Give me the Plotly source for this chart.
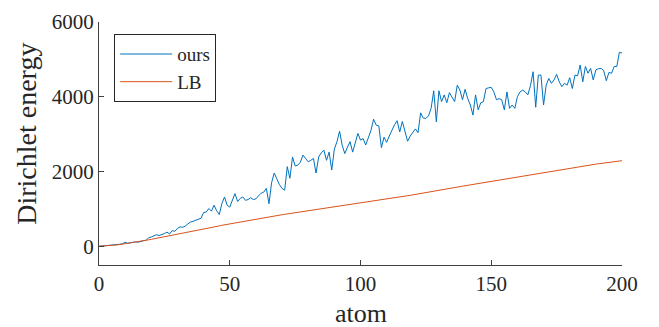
import plotly.graph_objects as go

atoms = list(range(0, 201))

ours = [
    0, 5, 10, 15, 20, 30, 35, 45, 55, 70,
    110, 80, 90, 100, 120, 110, 140, 150, 160, 230,
    250, 270, 310, 290, 310, 340, 380, 330, 420, 400,
    480, 520, 510, 540, 600, 650, 670, 700, 720, 750,
    900, 920, 1010, 940, 1100, 950, 850, 1150, 1320, 1100,
    1050, 1250, 1410, 1200, 1280, 1320, 1230, 1250, 1300, 1250,
    1270, 1350, 1420, 1450, 1550, 1140, 1700, 1960, 1800, 1650,
    1550, 1500, 2130, 1820, 2390, 2150, 2170, 2250, 2440, 2350,
    2260, 2300, 2350, 1960, 2390, 2500, 2570, 2300, 2520, 2040,
    2600, 2800, 3080, 2700, 2480, 2650, 2800, 2520, 2750, 3020,
    2840, 2880, 2710, 2930, 3100, 3400, 3240, 3220, 2640, 2920,
    2780, 2950, 3110, 3250, 3360, 3060, 3340, 3100, 2810, 2950,
    3050, 3140, 3040, 3570, 3430, 3420, 3490, 3690, 4160, 3330,
    4160, 3870, 4050, 3840, 4110, 3980, 3870, 4310, 4180, 3920,
    4200, 3950, 3780, 3510, 4050, 3650, 3840, 3870, 4220, 4240,
    4250, 4130, 3920, 3950, 3920, 3650, 4130, 3690, 3780, 3690,
    4000, 4130, 4180, 4130, 4050, 4300, 4670, 3720, 4580, 4580,
    3780, 4310, 4490, 4360, 4450, 4600, 4400, 4270, 4360, 4310,
    4510, 4220, 4580, 4560, 4850, 4400, 4810, 4630, 4760, 4450,
    4720, 4750, 4760, 4700, 4430, 4650, 4630, 4810, 4810, 5190,
    5170,
]

lb = [
    0, 3, 7, 12, 17, 23, 30, 38, 47, 57,
    67, 77, 88, 99, 111, 123, 135, 148, 161, 174,
    187, 200, 214, 228, 241, 255, 268, 282, 296, 309,
    322, 336, 350, 363, 376, 390, 404, 418, 431, 444,
    457, 470, 483, 497, 510, 525, 545, 562, 575, 588,
    600, 612, 624, 636, 648, 660, 672, 684, 696, 708,
    720, 732, 745, 757, 769, 781, 795, 810, 822, 834,
    845, 856, 866, 876, 886, 896, 906, 916, 926, 936,
    946, 956, 966, 978, 990, 1002, 1015, 1025, 1035, 1045,
    1055, 1065, 1075, 1085, 1095, 1105, 1115, 1125, 1135, 1145,
    1155, 1166, 1177, 1188, 1199, 1210, 1221, 1232, 1243, 1254,
    1265, 1276, 1287, 1298, 1309, 1320, 1331, 1342, 1353, 1364,
    1375, 1386, 1397, 1410, 1423, 1436, 1449, 1462, 1475, 1488,
    1500, 1512, 1524, 1536, 1548, 1560, 1572, 1584, 1596, 1608,
    1620, 1632, 1644, 1656, 1668, 1680, 1692, 1704, 1716, 1728,
    1740, 1752, 1764, 1776, 1788, 1800, 1812, 1824, 1836, 1848,
    1860, 1872, 1884, 1896, 1908, 1920, 1932, 1944, 1956, 1968,
    1980, 1992, 2004, 2016, 2028, 2040, 2052, 2064, 2076, 2088,
    2098, 2108, 2118, 2128, 2138, 2148, 2158, 2168, 2178, 2188,
    2198, 2208, 2218, 2228, 2238, 2248, 2258, 2268, 2278, 2284,
    2290,
]

x_ticks = [0, 50, 100, 150, 200]
y_ticks = [0, 2000, 4000, 6000]

FONT = "Liberation Serif"
AX = "#404040"
TXT = "#262626"

fig = go.Figure()
fig.add_trace(go.Scatter(x=atoms, y=ours, mode="lines", name="ours",
                         line=dict(color="#0072BD", width=1)))
fig.add_trace(go.Scatter(x=atoms, y=lb, mode="lines", name="LB",
                         line=dict(color="#D95319", width=1)))

# page has an 8px body margin, so the figure is sized 8px smaller and margins shifted
fig.update_layout(
    width=651, height=319,
    margin=dict(l=91, r=37, t=14, b=62),
    paper_bgcolor="white", plot_bgcolor="white",
    font=dict(family=FONT, color=TXT, size=21),
    showlegend=True,
    legend=dict(x=0.029, y=0.95, xanchor="left", yanchor="top",
                bgcolor="white", bordercolor=TXT, borderwidth=1,
                font=dict(family=FONT, size=19, color=TXT),
                itemwidth=52, tracegroupgap=0),
    xaxis=dict(range=[0, 200], tickvals=x_ticks, ticks="inside", ticklen=5,
               tickcolor=AX, showline=True, linecolor=AX, linewidth=1,
               showgrid=False, zeroline=False, mirror=False, automargin=False,
               tickfont=dict(family=FONT, size=21, color=TXT)),
    yaxis=dict(range=[-500, 6000], tickvals=y_ticks, ticks="inside", ticklen=5,
               tickcolor=AX, showline=True, linecolor=AX, linewidth=1,
               showgrid=False, zeroline=False, mirror=False, automargin=False,
               tickfont=dict(family=FONT, size=21, color=TXT)),
    annotations=[
        dict(text="atom", xref="paper", yref="paper", x=0.5, y=-0.2,
             xanchor="center", yanchor="middle", showarrow=False,
             font=dict(family=FONT, size=26, color=TXT)),
        dict(text="Dirichlet energy", xref="paper", yref="paper", x=-0.14, y=0.539,
             xanchor="center", yanchor="middle", showarrow=False, textangle=-90,
             font=dict(family=FONT, size=28, color=TXT)),
    ],
)

fig.write_html("out.html")
